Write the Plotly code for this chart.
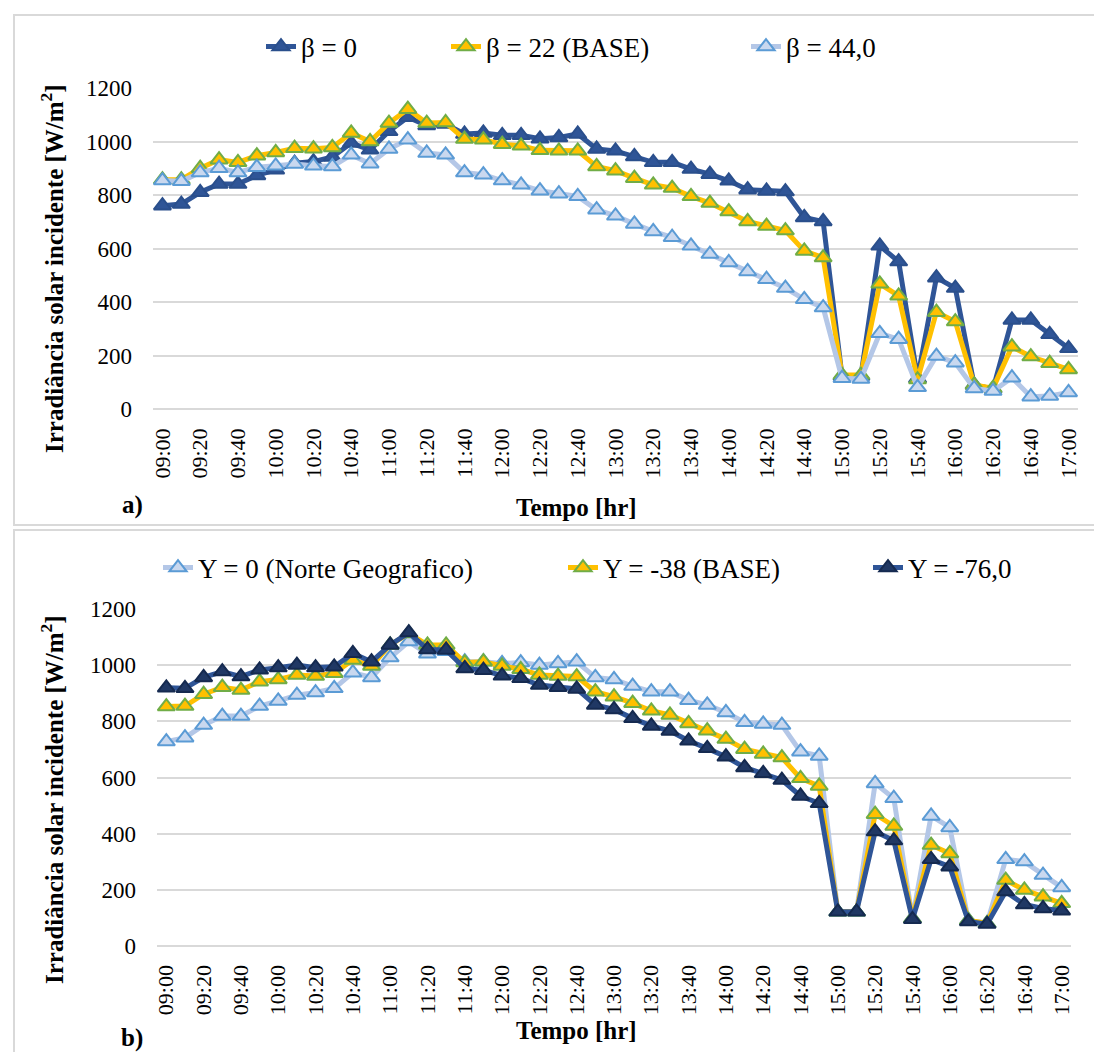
import plotly.graph_objects as go

W, H = 1094, 1052

times = ["09:00", "09:10", "09:20", "09:30", "09:40", "09:50", "10:00", "10:10", "10:20", "10:30",
         "10:40", "10:50", "11:00", "11:10", "11:20", "11:30", "11:40", "11:50", "12:00", "12:10",
         "12:20", "12:30", "12:40", "12:50", "13:00", "13:10", "13:20", "13:30", "13:40", "13:50",
         "14:00", "14:10", "14:20", "14:30", "14:40", "14:50", "15:00", "15:10", "15:20", "15:30",
         "15:40", "15:50", "16:00", "16:10", "16:20", "16:30", "16:40", "16:50", "17:00"]
tick_labels = ["09:00", "09:20", "09:40", "10:00", "10:20", "10:40", "11:00", "11:20", "11:40",
               "12:00", "12:20", "12:40", "13:00", "13:20", "13:40", "14:00", "14:20", "14:40",
               "15:00", "15:20", "15:40", "16:00", "16:20", "16:40", "17:00"]
y_ticks = [0, 200, 400, 600, 800, 1000, 1200]

# Panel a) - tilt angle beta
beta0 = [760, 766, 810, 841, 841, 873, 894, 919, 925, 942, 994, 969, 1038, 1091, 1060, 1065,
         1028, 1032, 1023, 1023, 1010, 1015, 1028, 972, 965, 944, 922, 922, 897, 878, 853, 820, 815,
         813, 716, 701, 123, 123, 610, 551, 115, 491, 452, 90, 75, 333, 333, 279, 227]
beta22 = [857, 857, 900, 932, 922, 947, 959, 975, 973, 978, 1032, 1000, 1069, 1121, 1069, 1071,
          1009, 1007, 990, 984, 967, 965, 965, 907, 891, 863, 838, 826, 795, 770, 738, 701, 684,
          667, 591, 566, 127, 127, 468, 423, 110, 362, 327, 90, 78, 233, 196, 171, 148]
beta44 = [854, 851, 884, 900, 884, 904, 909, 916, 909, 907, 950, 917, 972, 1007, 957, 950,
          884, 876, 854, 838, 816, 805, 795, 745, 722, 692, 664, 642, 610, 579, 548, 514, 485,
          452, 410, 379, 115, 112, 283, 261, 81, 198, 173, 77, 67, 117, 46, 49, 62]

# Panel b) - azimuth gamma
gamma0 = [728, 742, 787, 819, 819, 855, 873, 894, 903, 918, 974, 957, 1028, 1085, 1041, 1050,
          1013, 1013, 1007, 1010, 1001, 1007, 1013, 957, 950, 926, 906, 906, 876, 859, 832, 797, 791,
          787, 692, 677, 121, 121, 579, 526, 97, 463, 422, 90, 80, 308, 300, 252, 208]
gamma38 = [853, 855, 897, 922, 912, 942, 950, 966, 962, 972, 1019, 998, 1073, 1114, 1073, 1073,
           1010, 1013, 998, 986, 966, 962, 960, 906, 888, 865, 838, 823, 793, 767, 737, 701, 684,
           671, 597, 570, 121, 121, 469, 427, 97, 359, 329, 90, 80, 234, 199, 175, 151]
gamma76 = [920, 918, 957, 978, 960, 984, 992, 1001, 992, 995, 1043, 1013, 1073, 1117, 1057, 1055,
           989, 983, 963, 954, 930, 922, 916, 859, 843, 811, 784, 766, 731, 704, 674, 636, 615,
           591, 534, 508, 121, 121, 407, 375, 94, 308, 282, 86, 77, 193, 147, 133, 125]

names_a = ["β = 0", "β = 22 (BASE)", "β = 44,0"]
names_b = ["Υ = 0 (Norte Geografico)", "Υ = -38 (BASE)", "Υ = -76,0"]


def px(p):
    return p / W


def py(p):
    return 1 - p / H


SERIF = "Liberation Serif"
DARK, DARK_M, DARK_B = "#2F5597", "#2F5597", "#2A4F8C"
NAVY_M, NAVY_B = "#203864", "#152A50"
YEL, YEL_B = "#FFC000", "#70AD47"
LIG, LIG_M, LIG_B = "#B4C7E7", "#C9D8EF", "#5B9BD5"

fig = go.Figure()


def add(name, vals, lc, mc, mb, xa, ya, leg):
    fig.add_trace(go.Scatter(
        x=times, y=vals, name=name, mode="lines+markers",
        xaxis=xa, yaxis=ya, legend=leg,
        line=dict(color=lc, width=5),
        marker=dict(symbol="triangle-up", size=15, color=mc, line=dict(color=mb, width=2)),
    ))


add(names_a[0], beta0, DARK, DARK_M, DARK_B, "x", "y", "legend")
add(names_a[1], beta22, YEL, YEL, YEL_B, "x", "y", "legend2")
add(names_a[2], beta44, LIG, LIG_M, LIG_B, "x", "y", "legend3")
add(names_b[0], gamma0, LIG, LIG_M, LIG_B, "x2", "y2", "legend4")
add(names_b[1], gamma38, YEL, YEL, YEL_B, "x2", "y2", "legend5")
add(names_b[2], gamma76, DARK, NAVY_M, NAVY_B, "x2", "y2", "legend6")

xcommon = dict(type="category", range=[-0.5, 48.5], tickmode="array",
               tickvals=tick_labels, ticktext=tick_labels, tickangle=-90,
               tickfont=dict(family=SERIF, size=22, color="black"),
               showgrid=False, zeroline=False, showline=False, ticks="",
               ticklabelstandoff=14, fixedrange=True, automargin=False)
ycommon = dict(range=[0, 1200], tickmode="array", tickvals=y_ticks,
               tickfont=dict(family=SERIF, size=23, color="black"),
               showgrid=True, gridcolor="#D9D9D9", gridwidth=1.5,
               zeroline=True, zerolinecolor="#D9D9D9", zerolinewidth=1.5,
               showline=False, ticks="", ticklabelstandoff=20, fixedrange=True,
               automargin=False)

legfont = dict(family=SERIF, size=27, color="black")


def leg(xp, ycen):
    return dict(x=px(xp), y=py(ycen), xanchor="left", yanchor="middle",
                orientation="h", bgcolor="rgba(0,0,0,0)", font=legfont,
                itemwidth=30, tracegroupgap=0)


bold = dict(family=SERIF, size=25, color="black")
ytitle = "<b>Irradiância solar incidente [W/m<sup>2</sup>]</b>"
annotations = [
    dict(text="<b>Tempo [hr]</b>", x=px(576), y=py(507), xanchor="center", yanchor="middle"),
    dict(text="<b>a)</b>", x=px(132), y=py(505), xanchor="center", yanchor="middle"),
    dict(text=ytitle, x=px(52), y=py(269), xanchor="center", yanchor="middle", textangle=-90),
    dict(text="<b>Tempo [hr]</b>", x=px(576), y=py(1030), xanchor="center", yanchor="middle"),
    dict(text="<b>b)</b>", x=px(132), y=py(1038), xanchor="center", yanchor="middle"),
    dict(text=ytitle, x=px(52), y=py(800), xanchor="center", yanchor="middle", textangle=-90),
]
for a in annotations:
    a.update(xref="paper", yref="paper", showarrow=False, font=bold)

shapes = [
    dict(type="rect", xref="paper", yref="paper", x0=px(14), x1=px(1110), y0=py(525), y1=py(15),
         line=dict(color="#D9D9D9", width=2), fillcolor="rgba(0,0,0,0)", layer="below"),
    dict(type="rect", xref="paper", yref="paper", x0=px(14), x1=px(1110), y0=py(1070), y1=py(530),
         line=dict(color="#D9D9D9", width=2), fillcolor="rgba(0,0,0,0)", layer="below"),
]

fig.update_layout(
    width=W, height=H, margin=dict(l=0, r=0, t=0, b=0, autoexpand=False),
    paper_bgcolor="white", plot_bgcolor="white",
    xaxis=dict(domain=[px(153), px(1078)], anchor="y", **xcommon),
    yaxis=dict(domain=[py(409), py(88)], anchor="x", **ycommon),
    xaxis2=dict(domain=[px(157), px(1071)], anchor="y2", **xcommon),
    yaxis2=dict(domain=[py(945.7), py(609.3)], anchor="x2", **ycommon),
    legend=leg(261, 47), legend2=leg(446, 47), legend3=leg(746, 47),
    legend4=leg(158, 568), legend5=leg(563, 568), legend6=leg(868, 568),
    annotations=annotations, shapes=shapes,
    hovermode=False, showlegend=True,
)

fig.write_html("out.html", config={"displayModeBar": False},
               post_script="document.body.style.margin='0';document.body.style.overflow='hidden';")
